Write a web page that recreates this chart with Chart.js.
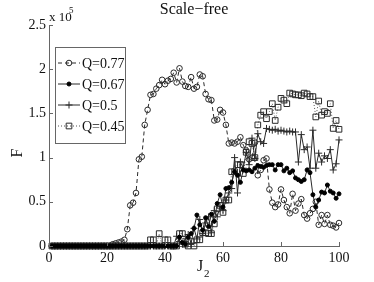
<!DOCTYPE html>
<html>
<head>
<meta charset="utf-8">
<script src="https://cdn.jsdelivr.net/npm/chart.js@4"></script>
<style>
  html, body { margin: 0; padding: 0; background: #fff; }
  #wrap { width: 374px; height: 282px; }
</style>
</head>
<body>
<div id="wrap"><canvas id="chartF" width="374" height="282"></canvas></div>
<script>
// J2 values (x) and F values (units of 1e5) for each Q
const J2 = [1,2,3,4,5,6,7,8,9,10,11,12,13,14,15,16,17,18,19,20,
  21,22,23,24,25,26,27,28,29,30,31,32,33,34,35,36,37,38,39,40,
  41,42,43,44,45,46,47,48,49,50,51,52,53,54,55,56,57,58,59,60,
  61,62,63,64,65,66,67,68,69,70,71,72,73,74,75,76,77,78,79,80,
  81,82,83,84,85,86,87,88,89,90,91,92,93,94,95,96,97,98,99,100];

const q077 = [0,0,0,0,0,0,0,0,0,0,0,0,0,0,0,0,0,0,0,0,
  0,0.02,0.03,0.04,0.05,0.07,0.19,0.46,0.49,0.60,0.98,1.01,1.37,1.54,1.71,1.72,1.78,1.82,1.88,1.83,
  1.87,1.89,1.96,1.85,2.01,1.86,1.81,1.80,1.91,1.78,1.80,1.94,1.92,1.72,1.66,1.65,1.42,1.43,1.54,1.51,
  1.37,1.16,1.17,1.16,1.18,1.23,1.14,1.08,0.98,1.00,1.17,0.80,0.86,0.97,0.99,0.64,0.49,0.44,0.47,0.64,
  0.52,0.44,0.37,0.59,0.40,0.48,0.53,0.35,0.31,0.37,0.42,0.50,0.24,0.35,0.25,0.35,0.24,0.23,0.21,0.26];

const q067 = [0,0,0,0,0,0,0,0,0,0,0,0,0,0,0,0,0,0,0,0,
  0,0,0,0,0,0,0,0,0,0,0,0,0,0,0,0,0,0,0,0,
  0,0,0,0,0.10,0.04,0.02,0.10,0.14,0.20,0.35,0.24,0.18,0.32,0.22,0.36,0.28,0.48,0.58,0.44,
  0.65,0.66,0.72,0.84,0.80,0.72,0.86,0.85,0.86,0.84,0.88,0.91,0.90,0.89,0.91,0.92,0.92,0.86,0.92,0.92,
  0.85,0.88,0.83,0.85,0.77,0.75,0.73,0.75,0.86,0.83,0.58,0.44,0.52,0.61,0.60,0.69,0.62,0.60,0.54,0.59];

const q050 = [0,0,0,0,0,0,0,0,0,0,0,0,0,0,0,0,0,0,0,0,
  0,0,0,0,0,0,0,0,0,0,0,0,0,0,0,0,0,0,0,0,
  0,0,0,0.11,0.05,0.02,0.08,0.13,0.03,0.20,0.08,0.30,0.14,0.26,0.33,0.15,0.40,0.33,0.45,0.40,
  0.52,0.60,0.65,1.00,0.60,0.95,0.88,1.06,0.92,1.22,0.99,1.27,1.18,1.16,1.33,1.32,1.31,1.32,1.30,1.31,
  1.30,1.29,1.30,1.29,1.29,0.95,1.26,1.09,1.12,0.88,1.31,0.88,1.05,0.95,1.02,0.99,1.09,0.86,0.93,1.20];

const q045 = [0,0,0,0,0,0,0,0,0,0,0,0,0,0,0,0,0,0,0,0,
  0,0,0,0,0,0,0,0,0,0,0,0,0,0,0.07,0.07,0,0.14,0,0.07,
  0.07,0,0,0,0.14,0.14,0.02,0,0.05,0,0.07,0.07,0.15,0.15,0.14,0.14,0.25,0.42,0.46,0.38,
  0.52,0.52,0.84,0.84,0.92,0.92,0.82,1.06,1.18,1.16,1.00,1.37,1.48,1.52,1.44,1.52,1.61,1.42,1.57,1.67,
  1.65,1.61,1.73,1.72,1.71,1.71,1.70,1.73,1.72,1.69,1.69,1.46,1.64,1.48,1.52,1.50,1.61,1.33,1.42,1.32];

const seriesLabels = ['Q=0.77', 'Q=0.67', 'Q=0.5', 'Q=0.45'];
const xTicks = [0, 20, 40, 60, 80, 100];
const yTicks = [0, 0.5, 1, 1.5, 2, 2.5];

const SERIF = '"Liberation Serif", "DejaVu Serif", serif';
const INK = '#2a2a2a';
const AXIS = '#666';

function pts(ys) { return J2.map((x, i) => ({ x: x, y: ys[i] })); }

// legend box, tick marks, axis labels drawn in MATLAB style
const matlabBits = {
  id: 'matlabBits',
  afterDraw(chart) {
    const ctx = chart.ctx;
    const xs = chart.scales.x, ys = chart.scales.y;
    const area = chart.chartArea;
    ctx.save();
    // inward ticks
    ctx.strokeStyle = AXIS;
    ctx.lineWidth = 1;
    ctx.beginPath();
    xTicks.forEach(v => {
      const px = Math.round(xs.getPixelForValue(v)) + 0.5;
      ctx.moveTo(px, area.bottom); ctx.lineTo(px, area.bottom - 4);
    });
    yTicks.forEach(v => {
      const py = Math.round(ys.getPixelForValue(v)) + 0.5;
      ctx.moveTo(area.left, py); ctx.lineTo(area.left + 4, py);
    });
    ctx.stroke();

    ctx.fillStyle = '#111';
    // title
    ctx.font = '16px ' + SERIF;
    ctx.textAlign = 'center';
    ctx.textBaseline = 'middle';
    ctx.fillText('Scale\u2212free', 194, 10);
    // exponent
    ctx.textAlign = 'left';
    ctx.font = '13px ' + SERIF;
    ctx.fillText('x 10', 49, 18);
    ctx.font = '9px ' + SERIF;
    ctx.fillText('5', 69, 11);
    // y label
    ctx.save();
    ctx.translate(18, 153);
    ctx.rotate(-Math.PI / 2);
    ctx.font = '16px ' + SERIF;
    ctx.textAlign = 'center';
    ctx.fillText('F', 0, 0);
    ctx.restore();
    // x label with subscript
    ctx.font = '16px ' + SERIF;
    ctx.textAlign = 'left';
    ctx.fillText('J', 197, 267);
    ctx.font = '11px ' + SERIF;
    ctx.fillText('2', 204, 274);

    // legend
    const lx = 55.5, ly = 47.5, lw = 70, lh = 96;
    ctx.fillStyle = '#fff';
    ctx.fillRect(lx, ly, lw, lh);
    ctx.strokeStyle = AXIS;
    ctx.strokeRect(lx, ly, lw, lh);
    const rowY = [63, 84, 105, 126];
    chart.data.datasets.forEach((ds, i) => {
      const y = rowY[i];
      ctx.strokeStyle = ds.borderColor;
      ctx.lineWidth = ds.borderWidth;
      ctx.setLineDash(ds.borderDash || []);
      ctx.beginPath();
      ctx.moveTo(58, y); ctx.lineTo(80, y);
      ctx.stroke();
      ctx.setLineDash([]);
      ctx.fillStyle = ds.pointBackgroundColor;
      ctx.strokeStyle = ds.pointBorderColor;
      Chart.helpers.drawPoint(ctx, {
        pointStyle: ds.pointStyle, radius: ds.pointRadius,
        rotation: 0, borderWidth: 1
      }, 69, y);
      ctx.fillStyle = '#111';
      ctx.font = '14px ' + SERIF;
      ctx.textAlign = 'left';
      ctx.textBaseline = 'middle';
      ctx.fillText(ds.label, 82, y + 1);
    });
    ctx.restore();
  }
};

new Chart(document.getElementById('chartF'), {
  type: 'line',
  data: {
    datasets: [
      {
        label: seriesLabels[0], data: pts(q077), order: 2, clip: false,
        borderColor: INK, borderWidth: 1, borderDash: [4, 3],
        pointStyle: 'circle', pointRadius: 2.8,
        pointBackgroundColor: 'rgba(0,0,0,0)', pointBorderColor: INK, pointBorderWidth: 1
      },
      {
        label: seriesLabels[1], data: pts(q067), order: 0, clip: false,
        borderColor: INK, borderWidth: 1,
        pointStyle: 'circle', pointRadius: 2,
        pointBackgroundColor: '#000', pointBorderColor: '#000', pointBorderWidth: 1
      },
      {
        label: seriesLabels[2], data: pts(q050), order: 1, clip: false,
        borderColor: INK, borderWidth: 1,
        pointStyle: 'cross', pointRadius: 3.5,
        pointBackgroundColor: INK, pointBorderColor: INK, pointBorderWidth: 1
      },
      {
        label: seriesLabels[3], data: pts(q045), order: 3, clip: false,
        borderColor: '#555', borderWidth: 1, borderDash: [1, 2],
        pointStyle: 'rect', pointRadius: 4,
        pointBackgroundColor: 'rgba(0,0,0,0)', pointBorderColor: INK, pointBorderWidth: 1
      }
    ]
  },
  options: {
    responsive: false,
    animation: false,
    layout: { padding: { left: 0, top: 25, right: 35, bottom: 0 } },
    plugins: { legend: { display: false }, title: { display: false }, tooltip: { enabled: false } },
    elements: { line: { tension: 0 } },
    scales: {
      x: {
        type: 'linear', min: 0, max: 100,
        afterFit: s => { s.height = 36; },
        afterBuildTicks: s => { s.ticks = xTicks.map(v => ({ value: v })); },
        grid: { display: false, drawTicks: false },
        border: { display: true, color: AXIS, width: 1 },
        ticks: { color: '#111', padding: 4, font: { family: SERIF, size: 14 } }
      },
      y: {
        type: 'linear', min: 0, max: 2.5,
        afterFit: s => { s.width = 49; },
        afterBuildTicks: s => { s.ticks = yTicks.map(v => ({ value: v })); },
        grid: { display: false, drawTicks: false },
        border: { display: true, color: AXIS, width: 1 },
        ticks: { color: '#111', padding: 3, font: { family: SERIF, size: 14 },
                 callback: v => String(v) }
      }
    }
  },
  plugins: [matlabBits]
});
</script>
</body>
</html>
